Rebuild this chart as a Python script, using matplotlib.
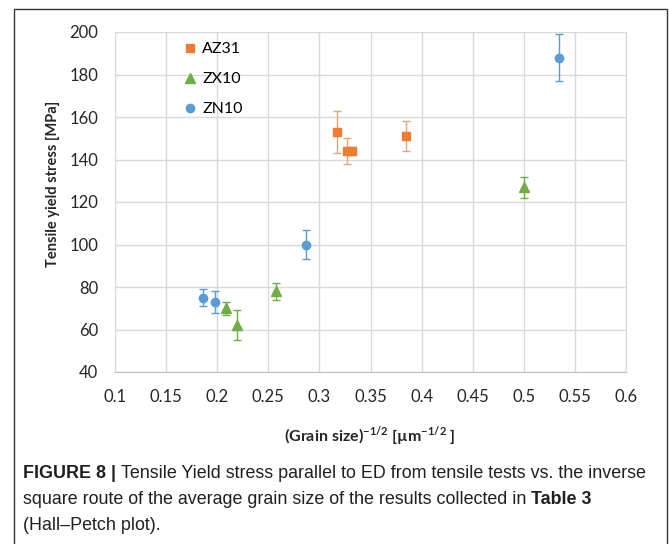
import matplotlib
matplotlib.use("Agg")
import matplotlib.pyplot as plt
from matplotlib.patches import Rectangle

# grain size^-1/2 [um^-1/2], yield stress [MPa], error [MPa]
az31_x = [0.317, 0.327, 0.332, 0.385]
az31_y = [153, 144, 144, 151]
az31_err = [10, 6, 2, 7]

zx10_x = [0.209, 0.219, 0.258, 0.500]
zx10_y = [70, 62, 78, 127]
zx10_err = [3, 7, 4, 5]

zn10_x = [0.186, 0.198, 0.287, 0.534]
zn10_y = [75, 73, 100, 188]
zn10_err = [4, 5, 7, 11]

x_ticks = [0.1, 0.15, 0.2, 0.25, 0.3, 0.35, 0.4, 0.45, 0.5, 0.55, 0.6]
x_ticklabels = ["0.1", "0.15", "0.2", "0.25", "0.3", "0.35", "0.4", "0.45", "0.5", "0.55", "0.6"]
y_ticks = [40, 60, 80, 100, 120, 140, 160, 180, 200]

plt.rcParams['font.family'] = ['Lato', 'DejaVu Sans']
plt.rcParams['mathtext.fontset'] = 'custom'
plt.rcParams['mathtext.rm'] = 'Lato:bold'
plt.rcParams['mathtext.bf'] = 'Lato:bold'

W, H = 669, 544
fig = plt.figure(figsize=(W / 100, H / 100), dpi=100)
ax = fig.add_axes([115 / W, 1 - 372 / H, 511 / W, 340 / H])

series = [
    ("AZ31", az31_x, az31_y, az31_err, "s", 6, "#ED7D31", "#E0A878"),
    ("ZX10", zx10_x, zx10_y, zx10_err, "^", 7.5, "#70AD47", "#70AD47"),
    ("ZN10", zn10_x, zn10_y, zn10_err, "o", 6, "#5B9BD5", "#5B9BD5"),
]
for name, xs, ys, es, mk, ms, col, ecol in series:
    ax.errorbar(xs, ys, yerr=es, fmt="none", ecolor=ecol, elinewidth=1,
                capsize=3, capthick=1, zorder=2)
    ax.plot(xs, ys, ls="none", marker=mk, ms=ms, color=col, mec=col,
            label=name, zorder=3)

ax.set_xlim(0.1, 0.6)
ax.set_ylim(40, 200)
ax.set_xticks(x_ticks)
ax.set_xticklabels(x_ticklabels)
ax.set_yticks(y_ticks)
ax.tick_params(length=0, labelsize=12, colors="#262626")
ax.tick_params(axis="y", pad=12)
ax.tick_params(axis="x", pad=12)
ax.grid(True, color="#D9D9D9", lw=1)
ax.set_axisbelow(True)
for side in ["left", "right", "top"]:
    ax.spines[side].set_color("#D9D9D9")
ax.spines["bottom"].set_color("#BFBFBF")

ax.legend(loc="upper left", bbox_to_anchor=(184 / W, 1 - 42 / H),
          bbox_transform=fig.transFigure, frameon=False, fontsize=11.5,
          handlelength=0.8, handletextpad=0.35, labelspacing=1.0,
          borderpad=0, borderaxespad=0)

fig.text(370 / W, 1 - 436 / H,
         r"(Grain size)$^{\mathrm{-1/2}}$ [µm$^{\mathrm{-1/2}}$ ]",
         ha="center", va="center", fontsize=11.5, fontweight="bold",
         color="#262626")
fig.text(53 / W, 1 - 184 / H, "Tensile yield stress [MPa]", rotation=90,
         ha="center", va="center", fontsize=10.5, fontweight="bold",
         color="#262626")

# outer frame around chart and caption
fig.patches.append(Rectangle((14 / W, -0.05), (667 - 14) / W, 1.05 - 9 / H,
                             transform=fig.transFigure, fill=False,
                             ec="#333333", lw=1))

# caption, drawn piece by piece so bold parts can sit inline
cap_font = ['Liberation Sans', 'DejaVu Sans']
cap_lines = [
    [("FIGURE 8 | ", "bold"),
     ("Tensile Yield stress parallel to ED from tensile tests vs. the inverse", "normal")],
    [("square route of the average grain size of the results collected in ", "normal"),
     ("Table 3", "bold")],
    [("(Hall\u2013Petch plot).", "normal")],
]
cap_y = [474, 500, 526]
renderer = fig.canvas.get_renderer()
for line, yy in zip(cap_lines, cap_y):
    x = 23
    for txt, wt in line:
        t = fig.text(x / W, 1 - yy / H, txt, ha="left", va="center",
                     fontsize=12.9, fontweight=wt, family=cap_font,
                     color="#231F20")
        x += t.get_window_extent(renderer).width

fig.savefig("out.png", dpi=100)
